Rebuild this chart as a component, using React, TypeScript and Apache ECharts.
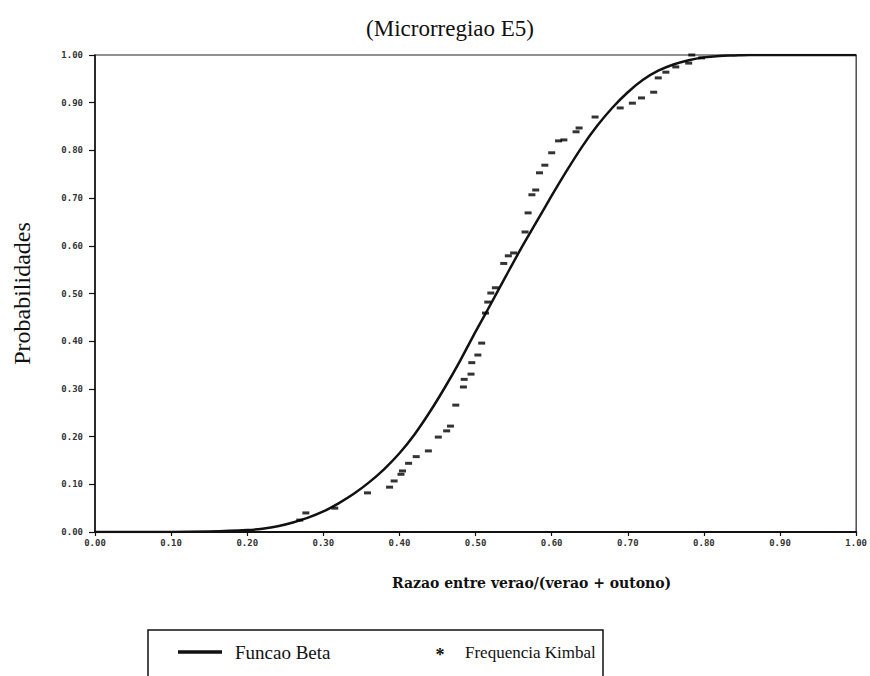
import React, { useEffect, useRef } from "react";
import * as echarts from "echarts";

// Fitted Beta CDF
const betaX = [0.0, 0.1, 0.15, 0.2, 0.22, 0.24, 0.26, 0.28, 0.3, 0.32, 0.34, 0.36, 0.38, 0.4, 0.42, 0.44, 0.46, 0.48, 0.5, 0.52, 0.54, 0.56, 0.58, 0.6, 0.62, 0.64, 0.66, 0.68, 0.7, 0.72, 0.74, 0.76, 0.78, 0.8, 0.82, 0.84, 0.86, 1.0];
const betaY = [0.0, 0.0, 0.001, 0.004, 0.007, 0.012, 0.02, 0.03, 0.043, 0.06, 0.08, 0.104, 0.132, 0.165, 0.205, 0.252, 0.304, 0.36, 0.42, 0.478, 0.537, 0.595, 0.65, 0.705, 0.758, 0.808, 0.852, 0.89, 0.922, 0.948, 0.967, 0.98, 0.989, 0.995, 0.998, 0.999, 1.0, 1.0];

const kimbalX = [0.269, 0.277, 0.315, 0.358, 0.387, 0.393, 0.402, 0.404, 0.412, 0.422, 0.438, 0.451, 0.462, 0.467, 0.474, 0.484, 0.485, 0.494, 0.495, 0.503, 0.508, 0.513, 0.516, 0.52, 0.526, 0.537, 0.543, 0.55, 0.565, 0.569, 0.574, 0.579, 0.584, 0.591, 0.6, 0.609, 0.616, 0.632, 0.636, 0.657, 0.69, 0.706, 0.718, 0.734, 0.74, 0.75, 0.763, 0.78, 0.784, 0.797];
const kimbalY = [0.025, 0.04, 0.05, 0.082, 0.094, 0.107, 0.121, 0.128, 0.144, 0.158, 0.17, 0.199, 0.212, 0.222, 0.266, 0.304, 0.32, 0.331, 0.355, 0.371, 0.396, 0.459, 0.482, 0.501, 0.512, 0.563, 0.579, 0.585, 0.629, 0.669, 0.707, 0.717, 0.753, 0.769, 0.795, 0.82, 0.822, 0.839, 0.847, 0.87, 0.889, 0.899, 0.91, 0.922, 0.952, 0.964, 0.975, 0.983, 1.0, 0.994];

const titleText = "(Microrregiao E5)";
const xAxisName = "Razao entre verao/(verao + outono)";
const yAxisName = "Probabilidades";
const legendNames = ["Funcao Beta", "Frequencia Kimbal"];

export default function App() {
  const ref = useRef<HTMLDivElement>(null);
  useEffect(() => {
    const chart = echarts.init(ref.current!, null, { renderer: "svg" });
    const serif = '"Liberation Serif", "DejaVu Serif", serif';
    const tickFont = { fontFamily: '"DejaVu Sans Mono", monospace', fontSize: 9, fontWeight: "bold" as const, color: "#333" };
    chart.setOption({
      animation: false,
      backgroundColor: "#fff",
      title: {
        text: titleText,
        left: 445,
        top: 12,
        textAlign: "center",
        textStyle: { fontFamily: serif, fontSize: 23, fontWeight: "normal", color: "#111" },
      },
      grid: { left: 95, right: 12, top: 55, bottom: 144, show: true, borderColor: "#222", borderWidth: 1.2, backgroundColor: "transparent" },
      xAxis: {
        type: "value",
        min: 0,
        max: 1,
        interval: 0.1,
        name: xAxisName,
        nameLocation: "middle",
        nameGap: 44,
        nameTextStyle: { fontFamily: '"DejaVu Serif", serif', fontSize: 14, fontWeight: "bold", color: "#111", padding: [0, 0, 0, 112] },
        axisLine: { show: true, lineStyle: { color: "#111", width: 2 } },
        axisTick: { show: true, length: 4, lineStyle: { color: "#111", width: 1.2 } },
        axisLabel: { ...tickFont, margin: 6, formatter: (v: number) => v.toFixed(2) },
        splitLine: { show: false },
      },
      yAxis: {
        type: "value",
        min: 0,
        max: 1,
        interval: 0.1,
        name: yAxisName,
        nameLocation: "middle",
        nameGap: 61,
        nameTextStyle: { fontFamily: serif, fontSize: 24, color: "#111" },
        axisLine: { show: true, lineStyle: { color: "#111", width: 1.5 } },
        axisTick: { show: true, length: 6, lineStyle: { color: "#111", width: 1.2 } },
        axisLabel: { ...tickFont, margin: 12, formatter: (v: number) => v.toFixed(2) },
        splitLine: { show: false },
      },
      series: [
        {
          name: legendNames[0],
          type: "line",
          data: betaX.map((x, i) => [x, betaY[i]]),
          smooth: 0.3,
          showSymbol: false,
          lineStyle: { color: "#111", width: 2.5 },
          z: 3,
        },
        {
          name: legendNames[1],
          type: "scatter",
          data: kimbalX.map((x, i) => [x, kimbalY[i]]),
          symbol: "rect",
          symbolSize: [7, 3],
          itemStyle: { color: "#000" },
          z: 4,
        },
      ],
      graphic: [
        { type: "rect", shape: { x: 148, y: 630, width: 455, height: 70 }, style: { fill: "#fff", stroke: "#111", lineWidth: 1.5 } },
        { type: "line", shape: { x1: 178, y1: 652, x2: 222, y2: 652 }, style: { stroke: "#111", lineWidth: 3.5 } },
        { type: "text", x: 235, y: 652, style: { text: legendNames[0], font: `19px ${serif}`, fill: "#111", verticalAlign: "middle" } },
        { type: "text", x: 440, y: 655, style: { text: "*", font: `bold 18px ${serif}`, fill: "#111", verticalAlign: "middle", align: "center" } },
        { type: "text", x: 465, y: 652, style: { text: legendNames[1], font: `17px ${serif}`, fill: "#111", verticalAlign: "middle" } },
      ],
    });
    return () => chart.dispose();
  }, []);
  return <div ref={ref} style={{ position: "absolute", left: 0, top: 0, width: 870, height: 676 }} />;
}
